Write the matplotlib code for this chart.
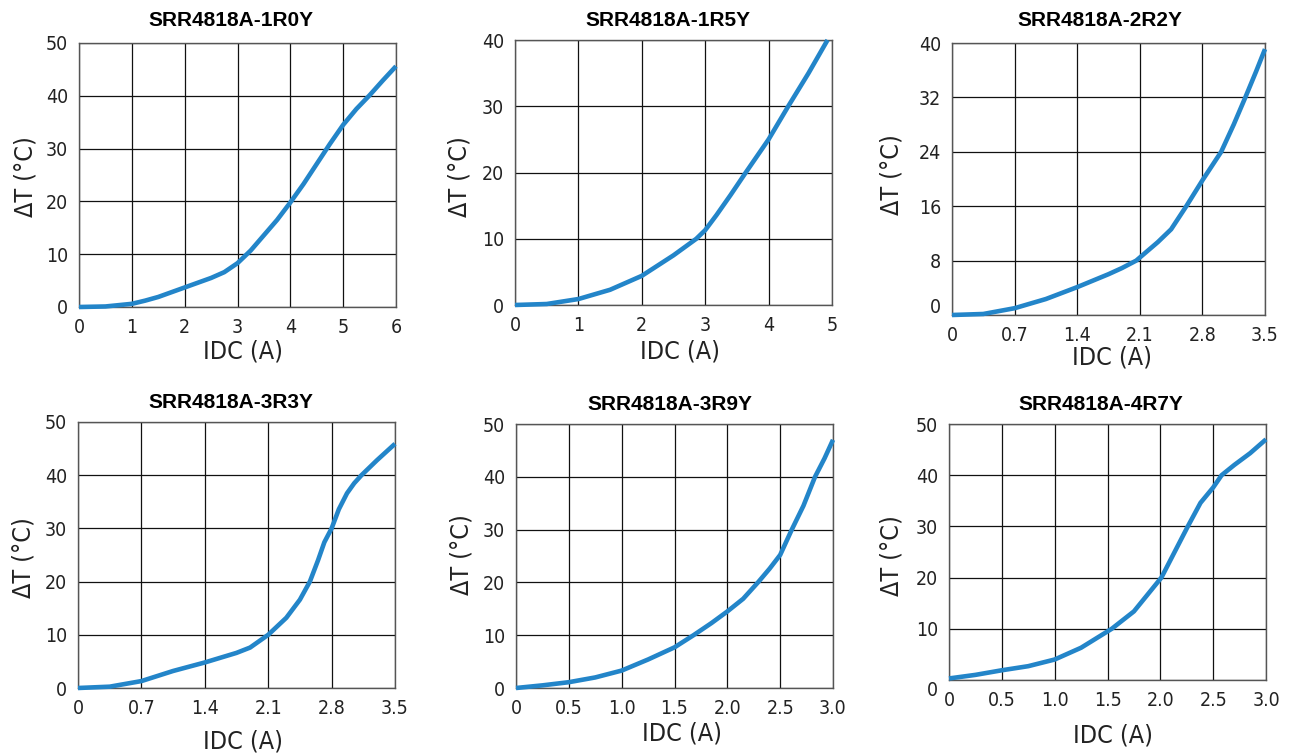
import matplotlib
matplotlib.use("Agg")
import matplotlib.pyplot as plt
from matplotlib.transforms import ScaledTranslation

# ---- data (IDC in A, delta T in degC) ----
titles = ["SRR4818A-1R0Y", "SRR4818A-1R5Y", "SRR4818A-2R2Y",
          "SRR4818A-3R3Y", "SRR4818A-3R9Y", "SRR4818A-4R7Y"]

idc_1r0 = [0, 0.5, 1.0, 1.25, 1.5, 1.75, 2.0, 2.25, 2.5, 2.75, 3.0, 3.25, 3.5,
           3.75, 4.0, 4.25, 4.5, 4.75, 5.0, 5.25, 5.5, 5.75, 6.0]
dt_1r0 = [0, 0.1, 0.6, 1.2, 1.9, 2.8, 3.7, 4.6, 5.5, 6.6, 8.3, 10.7, 13.6,
          16.5, 19.8, 23.3, 27.1, 30.9, 34.5, 37.5, 40.1, 42.9, 45.6]

idc_1r5 = [0, 0.5, 1.0, 1.5, 2.0, 2.5, 2.86, 3.0, 3.18, 3.4, 3.64, 3.82, 4.0,
           4.31, 4.63, 4.93]
dt_1r5 = [0, 0.15, 0.9, 2.3, 4.4, 7.5, 10.0, 11.3, 13.6, 16.6, 20.0, 22.5, 25.0,
          30.0, 35.0, 40.0]

idc_2r2 = [0, 0.35, 0.7, 1.05, 1.4, 1.75, 1.9, 2.06, 2.3, 2.45, 2.62, 2.8,
           3.01, 3.15, 3.28, 3.4, 3.5]
dt_2r2 = [0, 0.15, 1.0, 2.35, 4.1, 6.0, 6.9, 8.0, 10.7, 12.6, 16.0, 19.8,
          24.0, 28.0, 32.0, 35.8, 39.1]

idc_3r3 = [0, 0.35, 0.7, 1.05, 1.4, 1.75, 1.9, 2.1, 2.3, 2.45, 2.56, 2.65,
           2.72, 2.8, 2.88, 2.97, 3.05, 3.13, 3.3, 3.5]
dt_3r3 = [0, 0.25, 1.3, 3.2, 4.8, 6.6, 7.6, 10.0, 13.2, 16.6, 20.0, 24.0,
          27.4, 30.0, 33.6, 36.6, 38.5, 40.0, 42.8, 45.9]

idc_3r9 = [0, 0.25, 0.5, 0.75, 1.0, 1.25, 1.5, 1.68, 1.85, 2.0, 2.15, 2.29,
           2.4, 2.5, 2.61, 2.72, 2.83, 2.92, 3.0]
dt_3r9 = [0, 0.5, 1.1, 2.0, 3.3, 5.4, 7.7, 10.0, 12.3, 14.5, 16.9, 20.0,
          22.6, 25.2, 30.0, 34.5, 40.0, 43.5, 47.0]

idc_4r7 = [0, 0.25, 0.5, 0.75, 1.0, 1.25, 1.54, 1.75, 2.01, 2.13, 2.26, 2.38,
           2.5, 2.58, 2.7, 2.85, 3.0]
dt_4r7 = [0.3, 1.0, 1.9, 2.7, 4.0, 6.3, 10.0, 13.4, 20.0, 24.8, 30.0, 34.6,
          37.6, 40.0, 42.0, 44.3, 47.0]

xticks_list = [[0, 1, 2, 3, 4, 5, 6], [0, 1, 2, 3, 4, 5],
               [0, 0.7, 1.4, 2.1, 2.8, 3.5], [0, 0.7, 1.4, 2.1, 2.8, 3.5],
               [0, 0.5, 1.0, 1.5, 2.0, 2.5, 3.0], [0, 0.5, 1.0, 1.5, 2.0, 2.5, 3.0]]
xticklabels_list = [["0", "1", "2", "3", "4", "5", "6"], ["0", "1", "2", "3", "4", "5"],
                    ["0", "0.7", "1.4", "2.1", "2.8", "3.5"],
                    ["0", "0.7", "1.4", "2.1", "2.8", "3.5"],
                    ["0", "0.5", "1.0", "1.5", "2.0", "2.5", "3.0"],
                    ["0", "0.5", "1.0", "1.5", "2.0", "2.5", "3.0"]]
yticks_list = [[0, 10, 20, 30, 40, 50], [0, 10, 20, 30, 40],
               [0, 8, 16, 24, 32, 40], [0, 10, 20, 30, 40, 50],
               [0, 10, 20, 30, 40, 50], [0, 10, 20, 30, 40, 50]]

series = [(idc_1r0, dt_1r0), (idc_1r5, dt_1r5), (idc_2r2, dt_2r2),
          (idc_3r3, dt_3r3), (idc_3r9, dt_3r9), (idc_4r7, dt_4r7)]

# ---- layout (pixels in a 1291x756 canvas) ----
W, H = 1291, 756
# left, top, right, bottom of each plot area
rects = [(79, 43, 396, 307), (515, 40, 832, 305), (952, 43, 1265, 315),
         (78, 422, 395, 688), (516, 424, 833, 688), (949, 424, 1266, 680)]
title_pos = [(231, 20), (668, 20), (1100, 20), (231, 403), (670, 404), (1101, 405)]
xlabel_pos = [(243, 352), (680, 352), (1112, 358), (243, 741), (682, 734), (1113, 735)]
ylabel_pos = [(25, 177), (460, 177), (892, 175), (23, 558), (461, 555), (892, 556)]
zero_shift = [0, 0, 10, 0, 0, -8]  # the "0" y tick label sits off the axis in some panels

narrow = dict(family="DejaVu Sans", stretch="condensed")
blue = "#2385c9"

fig = plt.figure(figsize=(W / 100, H / 100), dpi=100)

for i, (x, y) in enumerate(series):
    l, t, r, b = rects[i]
    ax = fig.add_axes([l / W, 1 - b / H, (r - l) / W, (b - t) / H])
    ax.plot(x, y, color=blue, lw=3.3, solid_capstyle="butt", solid_joinstyle="round",
            clip_on=False, zorder=3)
    ax.set_xlim(xticks_list[i][0], xticks_list[i][-1])
    ax.set_ylim(yticks_list[i][0], yticks_list[i][-1])
    ax.set_xticks(xticks_list[i])
    ax.set_xticklabels(xticklabels_list[i])
    ax.set_yticks(yticks_list[i])
    ax.grid(True, color="#111111", lw=0.9)
    ax.set_axisbelow(True)
    for s in ax.spines.values():
        s.set_color("#555555")
        s.set_linewidth(1.0)
    ax.tick_params(length=0, pad=8, labelsize=14, labelcolor="#222222")
    for lab in ax.get_xticklabels() + ax.get_yticklabels():
        lab.set_fontstretch("condensed")
    if zero_shift[i]:
        lab0 = ax.get_yticklabels()[0]
        lab0.set_transform(lab0.get_transform() +
                           ScaledTranslation(0, zero_shift[i] / 100, fig.dpi_scale_trans))

    fig.text(title_pos[i][0] / W, 1 - title_pos[i][1] / H, titles[i],
             ha="center", va="center", fontsize=15, fontweight="bold",
             family=["Liberation Sans", "DejaVu Sans"])
    fig.text(xlabel_pos[i][0] / W, 1 - xlabel_pos[i][1] / H, "IDC (A)",
             ha="center", va="center", fontsize=18, color="#222222", **narrow)
    fig.text(ylabel_pos[i][0] / W, 1 - ylabel_pos[i][1] / H, "ΔT (°C)",
             ha="center", va="center", fontsize=18, rotation=90,
             color="#222222", **narrow)

fig.savefig("out.png", dpi=100)
